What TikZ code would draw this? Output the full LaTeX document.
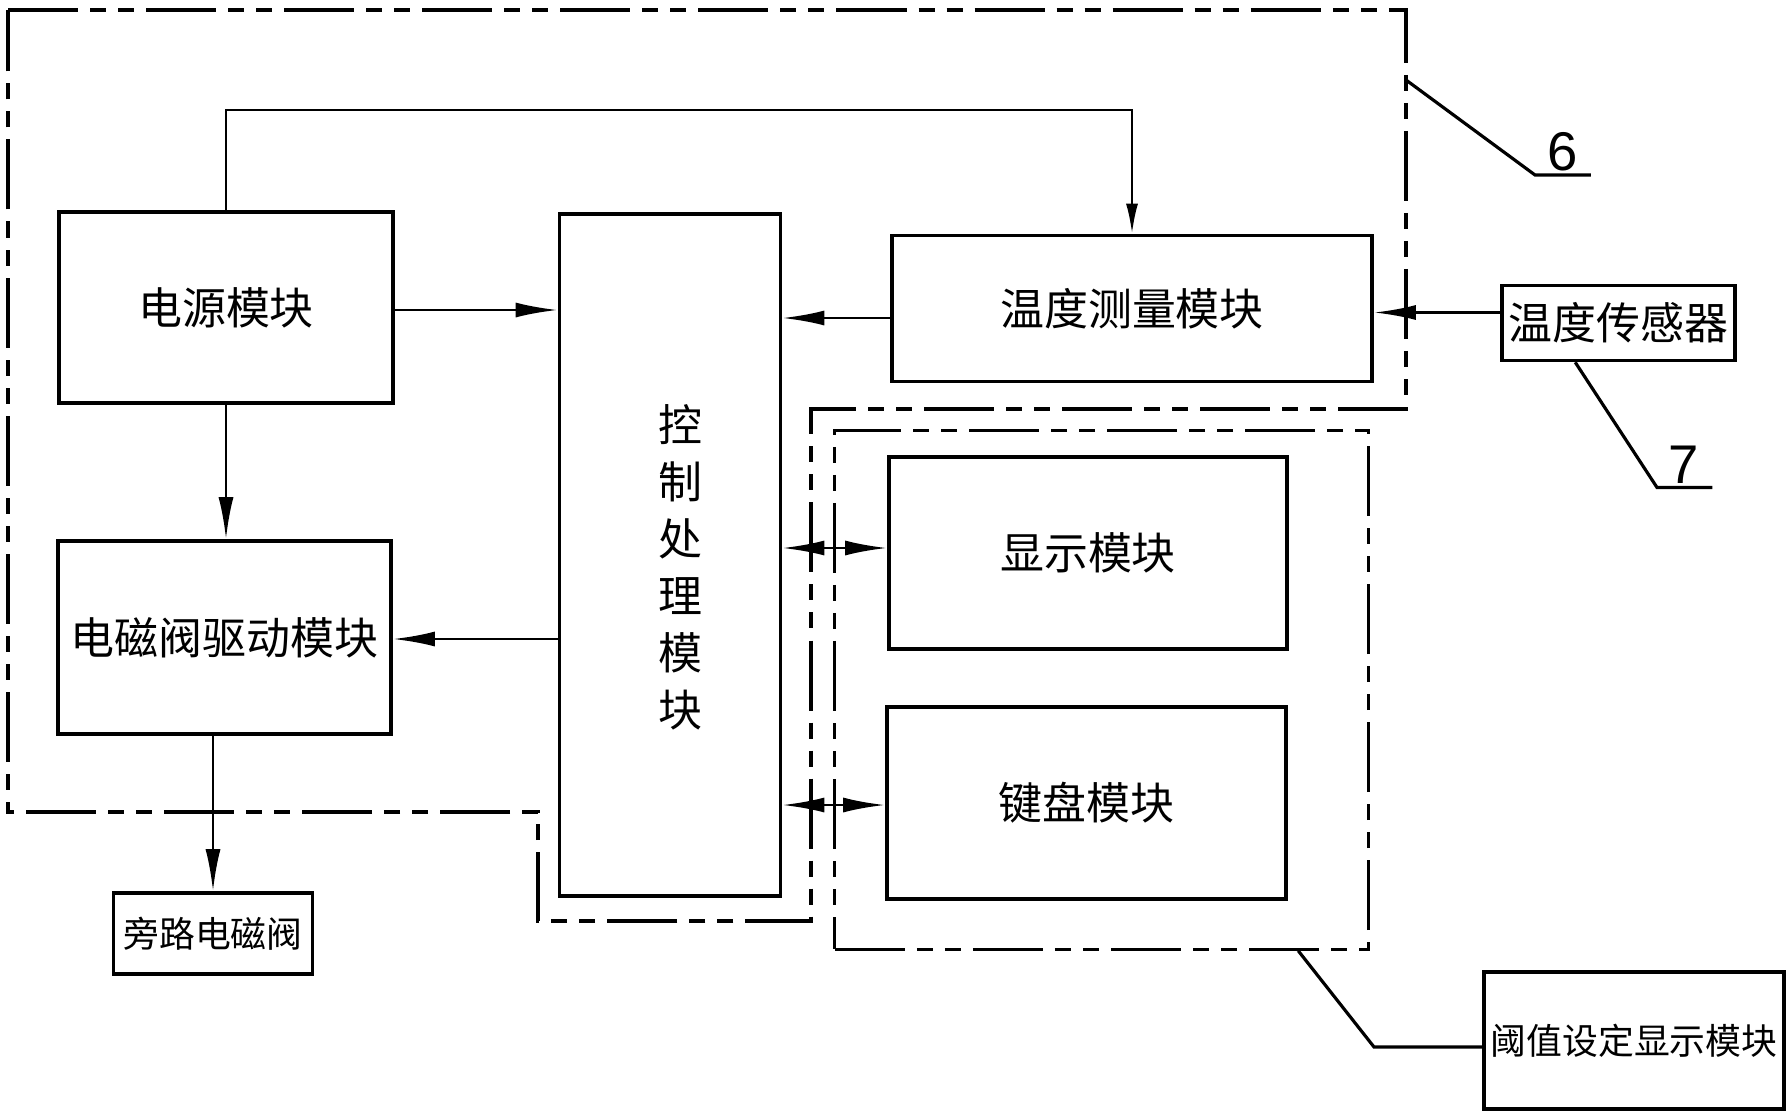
\documentclass[tikz,border=0pt]{standalone}
\usepackage{fontspec}
\newfontfamily\cjk{Noto Sans CJK SC}
\newfontfamily\numfont{Liberation Sans}
\usetikzlibrary{arrows.meta}
\tikzset{
  blk/.style={draw,line width=1pt,inner sep=0pt,font=\cjk\fontsize{12.5}{15}\selectfont},
  smalltext/.style={font=\cjk\fontsize{10.2}{12}\selectfont},
  arr/.style={line width=0.8pt,-{Latex[length=0.42cm,width=0.15cm]}},
  arrs/.style={line width=0.8pt,<->,>={Latex[length=0.42cm,width=0.15cm]}},
  dashbound/.style={line width=0.9pt,dash pattern=on 0.7cm off 0.12cm on 0.16cm off 0.12cm on 0.16cm off 0.12cm},
  lead/.style={line width=0.9pt},
  num/.style={font=\numfont\fontsize{15.5}{18}\selectfont,inner sep=0pt,inner ysep=1pt,minimum width=0.55cm,anchor=south}
}
\begin{document}
\begin{tikzpicture}[x=0.01cm,y=-0.01cm]
\useasboundingbox (0,0) rectangle (1792,1112);
\node[blk,minimum width=3.34cm,minimum height=1.91cm] (power) at (226,307.5) {电源模块};
\node[blk,minimum width=3.33cm,minimum height=1.93cm] (driver) at (224.5,637.5) {电磁阀驱动模块};
\node[blk,smalltext,minimum width=1.99cm,minimum height=0.81cm] (bypass) at (213,933.5) {旁路电磁阀};
\node[blk,minimum width=2.21cm,minimum height=6.82cm] (ctrl) at (670,555) {};
\node[font=\cjk\fontsize{12.5}{16.2}\selectfont,align=center] (ctrltext) at (680,567) {控\\制\\处\\理\\模\\块};
\node[blk,minimum width=4.8cm,minimum height=1.46cm] (tempm) at (1132,308.5) {温度测量模块};
\node[blk,minimum width=2.33cm,minimum height=0.75cm] (sensor) at (1618.5,323) {温度传感器};
\node[blk,minimum width=3.98cm,minimum height=1.92cm] (disp) at (1088,553) {显示模块};
\node[blk,minimum width=3.99cm,minimum height=1.92cm] (keyb) at (1086.5,803) {键盘模块};
\node[blk,smalltext,minimum width=3.0cm,minimum height=1.37cm] (thr) at (1634,1040.5) {阈值设定显示模块};
\draw[arr] ([yshift=-0.025cm]power.east) -- ([yshift=-0.025cm]power.east -| ctrl.west);
\draw[arr] (power.south) -- (power.south |- driver.north);
\draw[arr] ([yshift=-0.015cm]ctrl.west |- driver.east) -- ([yshift=-0.015cm]driver.east);
\draw[arr] (bypass.north |- driver.south) -- (bypass.north);
\draw[arr] ([yshift=-0.095cm]tempm.west) -- ([yshift=-0.095cm]tempm.west -| ctrl.east);
\draw[arr] ([yshift=0.105cm]sensor.west) -- ([yshift=0.105cm]sensor.west -| tempm.east);
\draw[line width=0.7pt,-{Latex[length=0.3cm,width=0.12cm]}] (power.north) |- (tempm.north |- 0,110) -- (tempm.north);
\draw[arrs] ([yshift=0.05cm]disp.west -| ctrl.east) -- ([yshift=0.05cm]disp.west);
\draw[arrs] ([yshift=-0.02cm]keyb.west -| ctrl.east) -- ([yshift=-0.02cm]keyb.west);
\draw[dashbound] (8,10) -- (1406,10) -- (1406,409) -- (811,409) -- (811,921) -- (538,921) -- (538,812) -- (8,812) -- cycle;
\node[draw,dashbound,minimum width=5.33cm,minimum height=5.18cm] (grp) at (1101.5,690) {};
\coordinate (p6) at (1406,80);
\node[num] (n6) at (1562.5,175) {6};
\node[num] (n7) at (1684,487.5) {7};
\draw[lead] (p6) -- (1535,175) -- (n6.south east);
\draw[lead] ([xshift=0.75cm]sensor.south west) -- (1657,487.5) -- (n7.south east);
\draw[lead] ([xshift=-0.715cm]grp.south east) -- (1374,1047) -- (thr.west |- 0,1047);
\end{tikzpicture}
\end{document}
